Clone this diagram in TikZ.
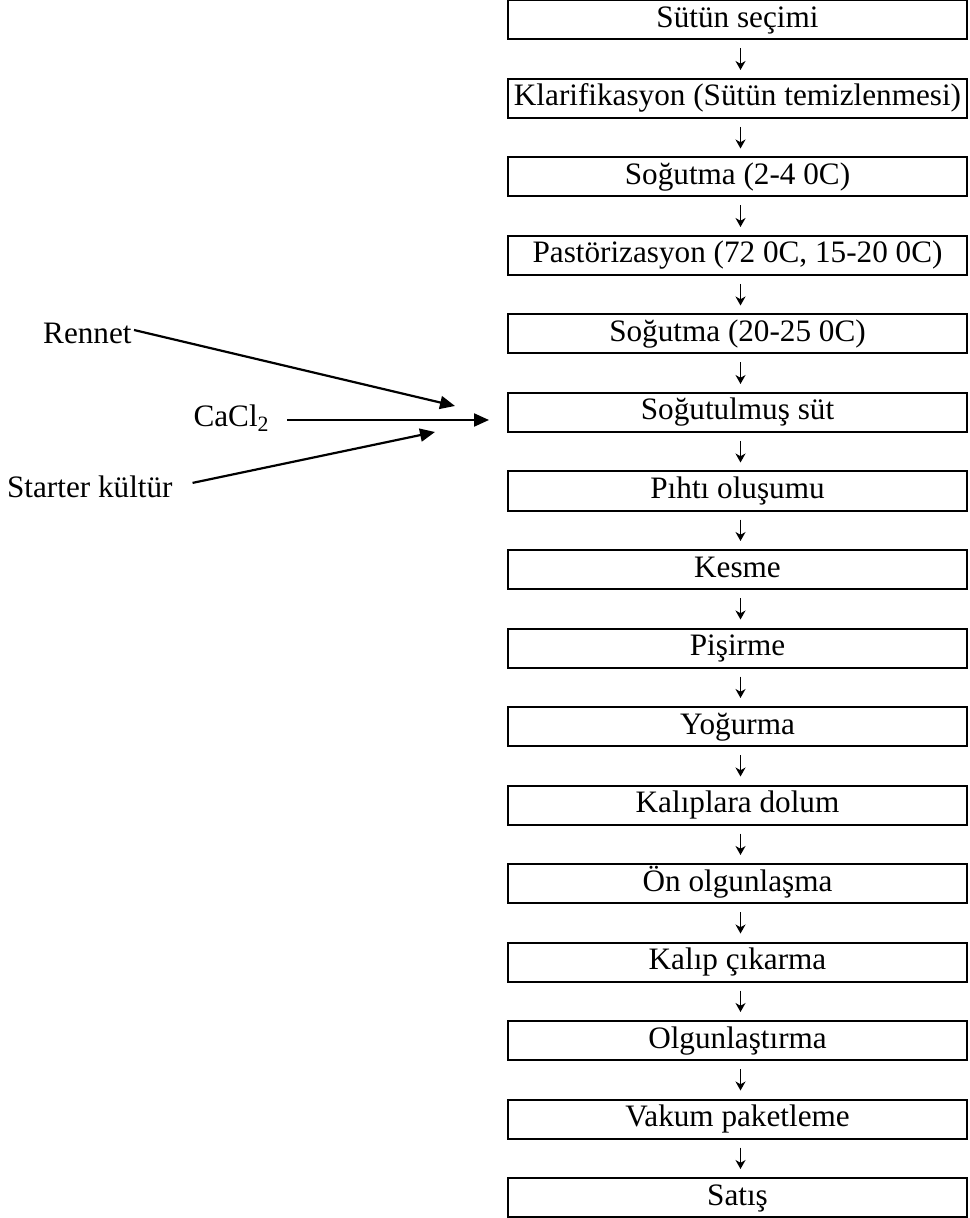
\documentclass[tikz,border=0pt]{standalone}
\usepackage{fontspec}
\setmainfont{Liberation Serif}
\usetikzlibrary{arrows.meta}

\tikzset{
  stepbox/.style = {draw, line width=1pt, minimum width=229.5pt,
                    minimum height=19.5pt, inner sep=0pt,
                    text height=7.5pt, text depth=0pt,
                    font=\fontsize{15.6pt}{18pt}\selectfont},
  sidetext/.style = {inner sep=0pt, font=\fontsize{15.6pt}{18pt}\selectfont},
  down/.style = {line width=0.6pt, shorten <=4pt, shorten >=4pt,
                 -{Stealth[length=4.5pt,width=5pt,inset=1.4pt]}},
  feed/.style = {line width=1.1pt, -{Triangle[length=7.5pt,width=6.5pt]}}
}

\begin{document}
\begin{tikzpicture}[x=0.5pt,y=-0.5pt]
\useasboundingbox (0,0) rectangle (969,1218);

\node[stepbox] (secim)   at (737.5,20)     {Sütün seçimi};
\node[stepbox] (klarif)  at (737.5,98.5)   {Klarifikasyon (Sütün temizlenmesi)};
\node[stepbox] (sogut1)  at (737.5,177)    {Soğutma (2-4 0C)};
\node[stepbox] (pastor)  at (737.5,255.5)  {Pastörizasyon (72 0C, 15-20 0C)};
\node[stepbox] (sogut2)  at (737.5,334)    {Soğutma (20-25 0C)};
\node[stepbox] (sut)     at (737.5,412.5)  {Soğutulmuş süt};
\node[stepbox] (pihti)   at (737.5,491)    {Pıhtı oluşumu};
\node[stepbox] (kesme)   at (737.5,569.5)  {Kesme};
\node[stepbox] (pisir)   at (737.5,648)    {Pişirme};
\node[stepbox] (yogur)   at (737.5,726.5)  {Yoğurma};
\node[stepbox] (dolum)   at (737.5,805)    {Kalıplara dolum};
\node[stepbox] (onolg)   at (737.5,883.5)  {Ön olgunlaşma};
\node[stepbox] (cikar)   at (737.5,962)    {Kalıp çıkarma};
\node[stepbox] (olgun)   at (737.5,1040.5) {Olgunlaştırma};
\node[stepbox] (vakum)   at (737.5,1119)   {Vakum paketleme};
\node[stepbox] (satis)   at (737.5,1197.5) {Satış};

\draw[down] ([xshift=1.5pt]secim.south)  -- ([xshift=1.5pt]klarif.north);
\draw[down] ([xshift=1.5pt]klarif.south) -- ([xshift=1.5pt]sogut1.north);
\draw[down] ([xshift=1.5pt]sogut1.south) -- ([xshift=1.5pt]pastor.north);
\draw[down] ([xshift=1.5pt]pastor.south) -- ([xshift=1.5pt]sogut2.north);
\draw[down] ([xshift=1.5pt]sogut2.south) -- ([xshift=1.5pt]sut.north);
\draw[down] ([xshift=1.5pt]sut.south)    -- ([xshift=1.5pt]pihti.north);
\draw[down] ([xshift=1.5pt]pihti.south)  -- ([xshift=1.5pt]kesme.north);
\draw[down] ([xshift=1.5pt]kesme.south)  -- ([xshift=1.5pt]pisir.north);
\draw[down] ([xshift=1.5pt]pisir.south)  -- ([xshift=1.5pt]yogur.north);
\draw[down] ([xshift=1.5pt]yogur.south)  -- ([xshift=1.5pt]dolum.north);
\draw[down] ([xshift=1.5pt]dolum.south)  -- ([xshift=1.5pt]onolg.north);
\draw[down] ([xshift=1.5pt]onolg.south)  -- ([xshift=1.5pt]cikar.north);
\draw[down] ([xshift=1.5pt]cikar.south)  -- ([xshift=1.5pt]olgun.north);
\draw[down] ([xshift=1.5pt]olgun.south)  -- ([xshift=1.5pt]vakum.north);
\draw[down] ([xshift=1.5pt]vakum.south)  -- ([xshift=1.5pt]satis.north);

% ingredients going into the milk
\node[sidetext, anchor=east] (rennet)  at (132,333) {Rennet};
\node[sidetext, anchor=east] (cacl)    at (270,418) {CaCl\textsubscript{2}};
\node[sidetext, anchor=east] (starter) at (173,487) {Starter kültür};
\coordinate (tipR) at (455,406);
\coordinate (tipS) at (435,432);

\draw[feed] ([xshift=1pt,yshift=1.5pt]rennet.east) -- (tipR);
\draw[feed, shorten <=8.5pt] (cacl.east |- 0,420) -- ([yshift=-3.75pt,xshift=-9pt]sut.west);
\draw[feed, shorten <=10pt] (starter.east) -- (tipS);
\end{tikzpicture}
\end{document}
